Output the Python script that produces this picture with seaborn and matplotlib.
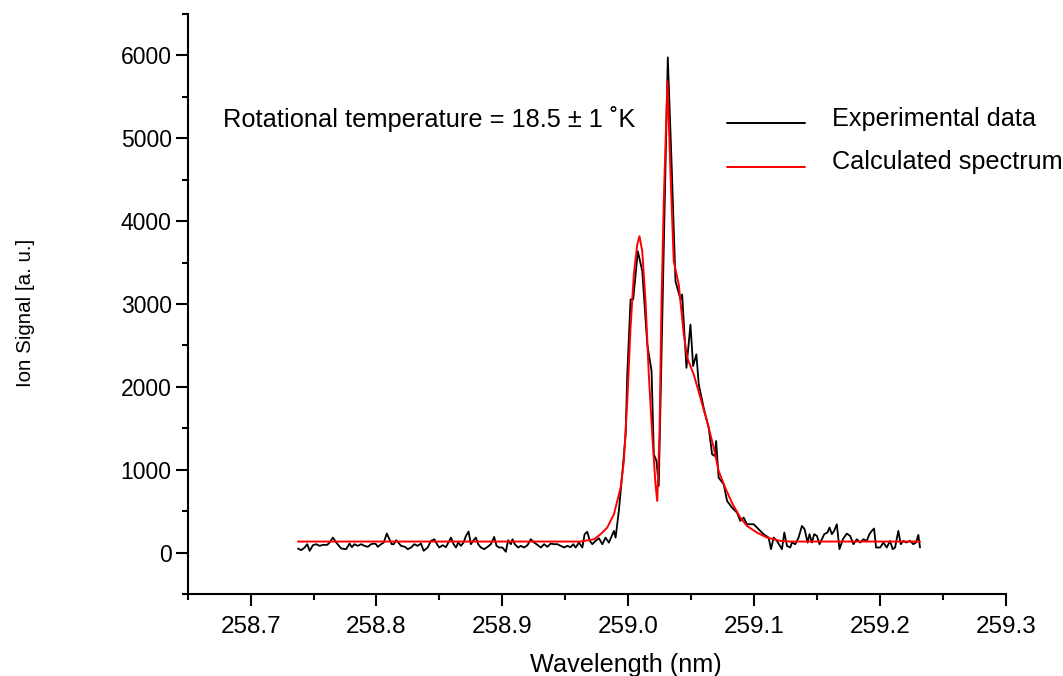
import numpy as np
import pandas as pd
import matplotlib
matplotlib.use("Agg")
import matplotlib.pyplot as plt
import seaborn as sns
from matplotlib.legend_handler import HandlerLine2D
from matplotlib.ticker import MultipleLocator, FixedLocator

exp_wavelength = [
    258.7376, 258.7402, 258.7429, 258.7450, 258.7469, 258.7495, 258.7521, 258.7548, 258.7574, 258.7609,
    258.7627, 258.7654, 258.7680, 258.7720, 258.7759, 258.7786, 258.7804, 258.7825, 258.7852, 258.7878,
    258.7905, 258.7931, 258.7957, 258.7979, 258.7997, 258.8010, 258.8037, 258.8058, 258.8082, 258.8103,
    258.8121, 258.8137, 258.8156, 258.8174, 258.8195, 258.8227, 258.8248, 258.8275, 258.8301, 258.8327,
    258.8354, 258.8375, 258.8407, 258.8433, 258.8460, 258.8481, 258.8499, 258.8526, 258.8552, 258.8571,
    258.8592, 258.8613, 258.8632, 258.8650, 258.8671, 258.8692, 258.8711, 258.8732, 258.8750, 258.8772,
    258.8790, 258.8808, 258.8830, 258.8856, 258.8883, 258.8909, 258.8935, 258.8954, 258.8975, 258.9001,
    258.9028, 258.9046, 258.9068, 258.9081, 258.9099, 258.9126, 258.9147, 258.9173, 258.9200, 258.9226,
    258.9253, 258.9279, 258.9306, 258.9332, 258.9358, 258.9385, 258.9411, 258.9438, 258.9464, 258.9491,
    258.9517, 258.9543, 258.9564, 258.9583, 258.9609, 258.9636, 258.9654, 258.9675, 258.9696, 258.9715,
    258.9741, 258.9768,
    258.9795, 258.9820, 258.9847, 258.9887, 258.9900, 258.9926, 258.9953, 258.9980, 258.9993, 259.0019,
    259.0040, 259.0077, 259.0112, 259.0152, 259.0186, 259.0204, 259.0225, 259.0243, 259.0279, 259.0315,
    259.0345, 259.0376, 259.0416, 259.0429, 259.0463, 259.0495, 259.0516, 259.0542, 259.0561, 259.0600,
    259.0640, 259.0667, 259.0688, 259.0699, 259.0719, 259.0759, 259.0786, 259.0825, 259.0865, 259.0891,
    259.0918, 259.0944, 259.0997, 259.1036, 259.1076, 259.1116, 259.1135,
    259.1156, 259.1182, 259.1222, 259.1241, 259.1262, 259.1288, 259.1301, 259.1328, 259.1354, 259.1381,
    259.1402, 259.1426, 259.1441, 259.1460, 259.1478, 259.1500, 259.1521, 259.1539, 259.1558, 259.1584,
    259.1600, 259.1619, 259.1637, 259.1658, 259.1679, 259.1706, 259.1737, 259.1764, 259.1790, 259.1817,
    259.1843, 259.1870, 259.1896, 259.1917, 259.1936, 259.1954, 259.1970, 259.2002, 259.2028, 259.2055,
    259.2081, 259.2102, 259.2121, 259.2147, 259.2166, 259.2187, 259.2208, 259.2240, 259.2266, 259.2287,
    259.2306, 259.2319,
]
exp_signal = [
    49, 29, 61, 101, 21, 89, 101, 81, 93, 93,
    121, 181, 121, 49, 41, 109, 65, 101, 81, 101,
    81, 69, 101, 109, 101, 69, 101, 121, 230, 161,
    101, 101, 149, 121, 81, 69, 41, 61, 101, 81,
    109, 21, 61, 141, 161, 101, 61, 89, 65, 121,
    181, 101, 61, 121, 81, 121, 201, 254, 101, 149,
    181, 101, 61, 41, 69, 101, 189, 81, 61, 61,
    10, 149, 101, 161, 101, 61, 81, 61, 89, 161,
    121, 93, 61, 101, 69, 109, 101, 101, 81, 61,
    81, 65, 101, 61, 121, 61, 222, 250, 141, 101,
    141, 173,
    100, 180, 120, 262, 180, 503, 946, 1428, 2150, 3055,
    3055, 3637, 3396, 2512, 2190, 1186, 1105, 804, 3400, 5976,
    4700, 3276, 3055, 3115, 2230, 2753, 2251, 2392, 2030, 1748,
    1507, 1186, 1166, 1347, 904, 825, 623, 543, 482, 382,
    422, 342, 342, 282, 222, 181, 41,
    181, 141, 41, 242, 81, 61, 121, 101, 181, 322,
    282, 121, 222, 121, 222, 201, 101, 161, 222, 242,
    302, 222, 262, 342, 41, 161, 229, 201, 101, 161,
    121, 161, 141, 222, 262, 290, 61, 61, 121, 61,
    141, 41, 61, 262, 101, 141, 121, 141, 101, 121,
    213, 61,
]

calc_wavelength = [
    258.7376, 258.9620, 258.9728, 258.9781, 258.9834, 258.9860, 258.9887, 258.9940, 258.9966, 258.9993,
    259.0019, 259.0045, 259.0072, 259.0090, 259.0112, 259.0138, 259.0164, 259.0191, 259.0217, 259.0231,
    259.0249, 259.0265, 259.0283, 259.0312, 259.0336, 259.0362, 259.0402, 259.0442, 259.0469, 259.0521,
    259.0574, 259.0640, 259.0680, 259.0719, 259.0772, 259.0825, 259.0891, 259.0944, 259.1024, 259.1103,
    259.1209, 259.1288, 259.2319,
]
calc_signal = [
    133, 133, 160, 222, 302, 382, 463, 784, 1105, 1829,
    2712, 3356, 3718, 3818, 3637, 3034, 2150, 1428, 825, 623,
    1428, 3034, 4240, 5687, 4600, 3517, 3236, 2633, 2351, 2150,
    1869, 1507, 1266, 985, 780, 600, 422, 322, 241, 181,
    141, 133, 133,
]

x_ticks = [258.7, 258.8, 258.9, 259.0, 259.1, 259.2, 259.3]
x_tick_labels = ["258.7", "258.8", "258.9", "259.0", "259.1", "259.2", "259.3"]
y_ticks = [0, 1000, 2000, 3000, 4000, 5000, 6000]
y_tick_labels = ["0", "1000", "2000", "3000", "4000", "5000", "6000"]
series_labels = ["Experimental data", "Calculated spectrum"]
annotation = "Rotational temperature = 18.5 \u00b1 1 \u02daK"

sns.set_style("ticks")
plt.rcParams["font.family"] = ["Liberation Sans", "DejaVu Sans"]
plt.rcParams["text.color"] = "black"

df_exp = pd.DataFrame({"wavelength": exp_wavelength, "signal": exp_signal})
df_calc = pd.DataFrame({"wavelength": calc_wavelength, "signal": calc_signal})

fig = plt.figure(figsize=(10.63, 6.76), dpi=100)
ax = fig.add_axes([187.7 / 1063, 82 / 676, 818 / 1063, 580 / 676])

sns.lineplot(data=df_exp, x="wavelength", y="signal", color="black", lw=1.3,
             estimator=None, sort=False, ax=ax, label=series_labels[0])
sns.lineplot(data=df_calc, x="wavelength", y="signal", color="#ff0000", lw=1.4,
             estimator=None, sort=False, ax=ax, label=series_labels[1])

ax.set_xlim(258.65, 259.3)
ax.set_ylim(-500, 6500)
ax.xaxis.set_major_locator(FixedLocator(x_ticks))
ax.set_xticklabels(x_tick_labels)
ax.xaxis.set_minor_locator(MultipleLocator(0.05))
ax.yaxis.set_major_locator(FixedLocator(y_ticks))
ax.set_yticklabels(y_tick_labels)
ax.yaxis.set_minor_locator(MultipleLocator(500))

for side in ["top", "right"]:
    ax.spines[side].set_visible(False)
for side in ["left", "bottom"]:
    ax.spines[side].set_linewidth(1.5)
    ax.spines[side].set_color("black")

ax.tick_params(axis="both", which="major", direction="out", length=8.5, width=1.5,
               color="black", labelcolor="black")
ax.tick_params(axis="both", which="minor", direction="out", length=4, width=1.5, color="black")
ax.tick_params(axis="x", which="major", pad=7, labelsize=17.5)
ax.tick_params(axis="y", which="major", pad=3, labelsize=16.5)

ax.set_xlabel("Wavelength (nm)", fontsize=18.2, color="black", va="baseline")
ax.xaxis.set_label_coords(0.5358, -0.1345)
ax.set_ylabel("Ion Signal [a. u.]", fontsize=14.8, color="black", va="baseline")
ax.yaxis.set_label_coords(-0.1919, 0.4845)

ax.text(0.0428, 0.8057, annotation, transform=ax.transAxes, fontsize=18.3,
        ha="left", va="baseline", color="black")


class LowLine(HandlerLine2D):
    def create_artists(self, legend, orig_handle, xdescent, ydescent, width, height, fontsize, trans):
        arts = super().create_artists(legend, orig_handle, xdescent, ydescent, width, height, fontsize, trans)
        for a in arts:
            a.set_ydata(np.asarray(a.get_ydata(), dtype=float) - 0.24 * fontsize)
        return arts


handles = ax.get_lines()[:2]
leg = ax.legend(handles, series_labels, loc="upper left",
                bbox_to_anchor=(727 / 1063, 1 - 107 / 676), bbox_transform=fig.transFigure,
                frameon=False, fontsize=18.2, handlelength=3.08, handletextpad=1.07,
                labelspacing=0.77, borderpad=0, borderaxespad=0,
                handler_map={matplotlib.lines.Line2D: LowLine()})
for line in leg.get_lines():
    line.set_linewidth(1.4)
for t in leg.get_texts():
    t.set_color("black")

fig.savefig("out.png", dpi=100)
